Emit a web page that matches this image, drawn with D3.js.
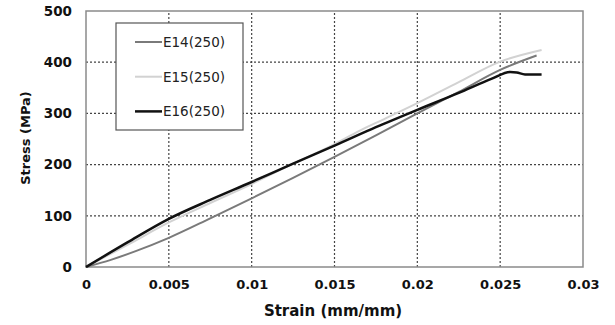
<!DOCTYPE html>
<html><head><meta charset="utf-8">
<script src="https://cdn.jsdelivr.net/npm/d3@7"></script>
<style>body{margin:0;background:#fff}svg{display:block}</style>
</head><body>
<svg id="c" width="615" height="325"></svg>
<script>
const xTicks = [0, 0.005, 0.01, 0.015, 0.02, 0.025, 0.03];
const xTickLabels = ["0", "0.005", "0.01", "0.015", "0.02", "0.025", "0.03"];
const yTicks = [0, 100, 200, 300, 400, 500];
const seriesNames = ["E14(250)", "E15(250)", "E16(250)"];
const e14Strain = [0, 0.0015, 0.003, 0.005, 0.0075, 0.01, 0.0125, 0.015, 0.0175, 0.02, 0.0225, 0.025, 0.0272];
const e14Stress = [0, 14, 31, 57, 95, 134, 174, 215, 257, 300, 342, 385, 413];
const e15Strain = [0, 0.0025, 0.005, 0.0075, 0.01, 0.012, 0.015, 0.0165, 0.018, 0.02, 0.0225, 0.025, 0.0275];
const e15Stress = [0, 43, 87, 125, 162, 194, 240, 266, 289, 320, 361, 401, 424];
const e16Strain = [0, 0.0025, 0.005, 0.0075, 0.01, 0.0125, 0.015, 0.0175, 0.02, 0.0225, 0.0245, 0.0256, 0.026, 0.0265, 0.027, 0.0275];
const e16Stress = [0, 48, 94, 131, 166, 202, 237, 273, 307, 340, 368, 381, 380, 376, 376, 376];
const colors = ["#7a7a7a", "#d2d2d2", "#111111"];
const widths = [2, 2, 2.5];
const FONT = "DejaVu Sans, Verdana, sans-serif";

const svg = d3.select("#c");
const x = d3.scaleLinear().domain([0, 0.03]).range([86, 583]);
const y = d3.scaleLinear().domain([0, 500]).range([267, 11]);

// grid
const g = svg.append("g");
g.selectAll(".vg").data(xTicks.slice(1, -1)).enter().append("line")
  .attr("x1", d => x(d)).attr("x2", d => x(d)).attr("y1", y(0)).attr("y2", y(500))
  .attr("stroke", "#444").attr("stroke-width", 1.2).attr("stroke-dasharray", "2,2");
g.selectAll(".hg").data(yTicks.slice(1, -1)).enter().append("line")
  .attr("y1", d => y(d)).attr("y2", d => y(d)).attr("x1", x(0)).attr("x2", x(0.03))
  .attr("stroke", "#444").attr("stroke-width", 1.2).attr("stroke-dasharray", "2,2");

// frame
svg.append("rect").attr("x", x(0)).attr("y", y(500)).attr("width", x(0.03) - x(0)).attr("height", y(0) - y(500))
  .attr("fill", "none").attr("stroke", "#8a8a8a").attr("stroke-width", 1.5);

// axes
const xAxis = d3.axisBottom(x).tickValues(xTicks).tickFormat((d, i) => xTickLabels[i]).tickSize(0).tickPadding(13);
const xa = svg.append("g").attr("transform", `translate(0,${y(0)})`).call(xAxis);
xa.select(".domain").remove();
xa.selectAll("text").attr("font-family", FONT).attr("font-size", 13).attr("font-weight", "bold").attr("fill", "#111");
const yAxis = d3.axisLeft(y).tickValues(yTicks).tickSize(0).tickPadding(14);
const ya = svg.append("g").attr("transform", `translate(${x(0)},0)`).call(yAxis);
ya.select(".domain").remove();
ya.selectAll("text").attr("font-family", FONT).attr("font-size", 13.5).attr("font-weight", "bold").attr("fill", "#111");

// titles
svg.append("text").attr("x", 333).attr("y", 316).attr("text-anchor", "middle")
  .attr("font-family", FONT).attr("font-size", 15).attr("font-weight", "bold").attr("fill", "#111")
  .text("Strain (mm/mm)");
svg.append("text").attr("transform", "translate(29.5,138) rotate(-90)").attr("text-anchor", "middle")
  .attr("font-family", FONT).attr("font-size", 13).attr("font-weight", "bold").attr("fill", "#111")
  .text("Stress (MPa)");

// lines
const series = [
  d3.zip(e14Strain, e14Stress),
  d3.zip(e15Strain, e15Stress),
  d3.zip(e16Strain, e16Stress)
];
const line = d3.line().x(d => x(d[0])).y(d => y(d[1])).curve(d3.curveMonotoneX);
[1, 0, 2].forEach(i => {
  svg.append("path").attr("d", line(series[i])).attr("fill", "none")
    .attr("stroke", colors[i]).attr("stroke-width", widths[i]).attr("stroke-linejoin", "round");
});

// legend
const lg = svg.append("g");
lg.append("rect").attr("x", 116).attr("y", 23).attr("width", 127).attr("height", 107)
  .attr("fill", "#fff").attr("stroke", "#555").attr("stroke-width", 1.2);
seriesNames.forEach((n, i) => {
  const yy = 42 + i * 34.7;
  lg.append("line").attr("x1", 135).attr("x2", 162).attr("y1", yy).attr("y2", yy)
    .attr("stroke", colors[i]).attr("stroke-width", widths[i]);
  lg.append("text").attr("x", 163).attr("y", yy + 5)
    .attr("font-family", FONT).attr("font-size", 13.5).attr("fill", "#222")
    .text(n);
});
</script>
</body></html>
